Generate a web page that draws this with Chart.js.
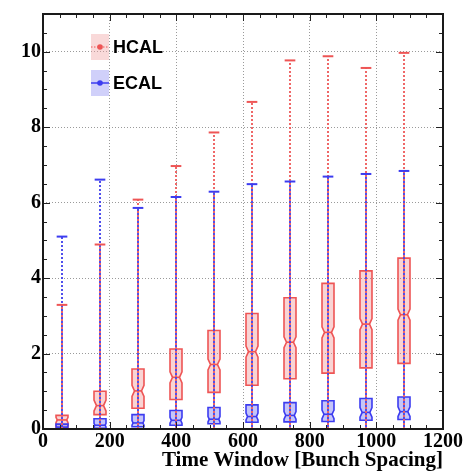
<!DOCTYPE html>
<html>
<head>
<meta charset="utf-8">
<script src="https://cdn.jsdelivr.net/npm/chart.js@4.4.1/dist/chart.umd.min.js"></script>
<style>
  html, body { margin: 0; padding: 0; background: #fff; }
</style>
</head>
<body>
<canvas id="windowChart" width="465" height="473"></canvas>
<script>
// time window centres, in bunch spacings
const timeWindows = [57, 171, 285, 399, 513, 627, 741, 855, 969, 1083];

// HCAL distribution per window
const hcalMin    = [0, 0, 0, 0, 0, 0, 0, 0, 0, 0];
const hcalQ1     = [0.03, 0.38, 0.55, 0.78, 0.97, 1.16, 1.33, 1.48, 1.62, 1.74];
const hcalMedian = [0.24, 0.62, 1.01, 1.37, 1.71, 2.05, 2.30, 2.56, 2.78, 3.03];
const hcalQ3     = [0.36, 1.00, 1.59, 2.12, 2.61, 3.06, 3.48, 3.86, 4.19, 4.53];
const hcalMax    = [3.29, 4.89, 6.08, 6.97, 7.86, 8.67, 9.77, 9.88, 9.57, 9.97];

// ECAL distribution per window
const ecalMin    = [0, 0, 0, 0, 0, 0, 0, 0, 0, 0];
const ecalQ1     = [0.00, 0.02, 0.06, 0.10, 0.14, 0.18, 0.19, 0.20, 0.23, 0.25];
const ecalMedian = [0.05, 0.10, 0.16, 0.23, 0.26, 0.33, 0.36, 0.39, 0.44, 0.46];
const ecalQ3     = [0.13, 0.27, 0.38, 0.49, 0.57, 0.64, 0.70, 0.75, 0.81, 0.85];
const ecalMax    = [5.10, 6.61, 5.86, 6.15, 6.29, 6.49, 6.56, 6.69, 6.76, 6.84];

const xTickValues = [0, 200, 400, 600, 800, 1000, 1200];
const yTickValues = [0, 2, 4, 6, 8, 10];

const HALF_BOX = 18;   // half box width, x units
const CAP_HALF = 16;

function series(label, mn, q1, med, q3, mx, style) {
  return {
    label: label,
    data: timeWindows.map((t, i) => ({ x: t, y: med[i] })),
    stats: timeWindows.map((t, i) => ({ x: t, min: mn[i], q1: q1[i], med: med[i], q3: q3[i], max: mx[i] })),
    pointRadius: 0,
    showLine: false,
    box: style
  };
}

const hcal = series('HCAL', hcalMin, hcalQ1, hcalMedian, hcalQ3, hcalMax, {
  line: 'rgb(238, 85, 85)', fill: 'rgba(235, 120, 120, 0.32)', whisker: 'rgba(238, 95, 95, 0.95)', offset: 0
});
const ecal = series('ECAL', ecalMin, ecalQ1, ecalMedian, ecalQ3, ecalMax, {
  line: 'rgb(60, 60, 240)', fill: 'rgba(110, 110, 240, 0.40)', whisker: 'rgba(70, 70, 235, 0.95)', offset: 2
});

function boxOutline(ctx, cx, half, top, bottom, med, notch, inset) {
  ctx.beginPath();
  ctx.moveTo(cx - half, top);
  ctx.lineTo(cx + half, top);
  ctx.lineTo(cx + half, med - notch);
  ctx.lineTo(cx + half - inset, med);
  ctx.lineTo(cx + half, med + notch);
  ctx.lineTo(cx + half, bottom);
  ctx.lineTo(cx - half, bottom);
  ctx.lineTo(cx - half, med + notch);
  ctx.lineTo(cx - half + inset, med);
  ctx.lineTo(cx - half, med - notch);
  ctx.closePath();
}

const candles = {
  id: 'candles',
  afterDatasetsDraw(chart) {
    const { ctx, scales: { x, y } } = chart;
    const sets = chart.data.datasets;
    ctx.save();
    ctx.beginPath();
    ctx.rect(chart.chartArea.left, chart.chartArea.top - 2, chart.chartArea.width, chart.chartArea.height + 6);
    ctx.clip();

    // notched boxes
    sets.forEach(ds => {
      ds.stats.forEach(s => {
        const cx = x.getPixelForValue(s.x);
        const half = x.getPixelForValue(s.x + HALF_BOX) - cx;
        const top = y.getPixelForValue(s.q3);
        const bottom = y.getPixelForValue(s.q1);
        const med = y.getPixelForValue(s.med);
        const notch = Math.max(0, Math.min(5.5, 0.6 * (med - top), 0.6 * (bottom - med)));
        const inset = half * 0.42 * Math.min(1, notch / 5.5);
        boxOutline(ctx, cx, half, top, bottom, med, notch, inset);
        ctx.fillStyle = ds.box.fill;
        ctx.fill();
        ctx.lineWidth = 1.6;
        ctx.strokeStyle = ds.box.line;
        ctx.setLineDash([]);
        ctx.stroke();
        ctx.beginPath();
        ctx.moveTo(cx - half + inset, med);
        ctx.lineTo(cx + half - inset, med);
        ctx.stroke();
      });
    });

    // dotted whiskers through the full range
    sets.forEach(ds => {
      ctx.strokeStyle = ds.box.whisker;
      ctx.lineWidth = 2;
      ctx.setLineDash([2, 2]);
      ctx.lineDashOffset = ds.box.offset;
      ds.stats.forEach(s => {
        const cx = x.getPixelForValue(s.x);
        ctx.beginPath();
        ctx.moveTo(cx, y.getPixelForValue(s.min));
        ctx.lineTo(cx, y.getPixelForValue(s.max));
        ctx.stroke();
      });
    });

    // whisker caps
    ctx.setLineDash([]);
    sets.forEach(ds => {
      ctx.strokeStyle = ds.box.line;
      ctx.lineWidth = 2;
      ds.stats.forEach(s => {
        const x0 = x.getPixelForValue(s.x - CAP_HALF);
        const x1 = x.getPixelForValue(s.x + CAP_HALF);
        [s.min, s.max].forEach(v => {
          const py = y.getPixelForValue(v);
          ctx.beginPath();
          ctx.moveTo(x0, py);
          ctx.lineTo(x1, py);
          ctx.stroke();
        });
      });
    });
    ctx.restore();
  },
  afterDraw(chart) {
    const { ctx, chartArea: a, scales: { x, y } } = chart;
    ctx.save();
    // inward ticks on all four sides
    ctx.strokeStyle = '#222';
    ctx.lineWidth = 1;
    for (let v = 50; v < 1200; v += 50) {
      const px = Math.round(x.getPixelForValue(v)) + 0.5;
      const len = v % 200 === 0 ? 7 : 4;
      ctx.beginPath();
      ctx.moveTo(px, a.bottom); ctx.lineTo(px, a.bottom - len);
      ctx.moveTo(px, a.top); ctx.lineTo(px, a.top + len);
      ctx.stroke();
    }
    for (let v = 0.5; v < 11; v += 0.5) {
      const py = Math.round(y.getPixelForValue(v)) + 0.5;
      const len = v % 2 === 0 ? 7 : 4;
      ctx.beginPath();
      ctx.moveTo(a.left, py); ctx.lineTo(a.left + len, py);
      ctx.moveTo(a.right, py); ctx.lineTo(a.right - len, py);
      ctx.stroke();
    }
    // frame
    ctx.lineWidth = 2;
    ctx.strokeStyle = '#1a1a1a';
    ctx.strokeRect(a.left, a.top, a.right - a.left, a.bottom - a.top);

    // legend
    const entries = [
      { ds: chart.data.datasets[0], swatch: 'rgba(240, 160, 160, 0.40)', dotted: true },
      { ds: chart.data.datasets[1], swatch: 'rgba(150, 150, 245, 0.45)', dotted: false }
    ];
    const lx = a.left + 48;
    entries.forEach((e, i) => {
      const top = a.top + 20 + i * 36;
      ctx.fillStyle = e.swatch;
      ctx.fillRect(lx, top, 18, 26);
      const cy = top + 13;
      ctx.strokeStyle = e.ds.box.line;
      ctx.lineWidth = e.dotted ? 1 : 1.5;
      ctx.setLineDash(e.dotted ? [1.5, 1.5] : []);
      ctx.beginPath();
      ctx.moveTo(lx, cy); ctx.lineTo(lx + 18, cy);
      ctx.stroke();
      ctx.setLineDash([]);
      ctx.fillStyle = e.ds.box.line;
      ctx.beginPath();
      ctx.arc(lx + 9, cy, 2.8, 0, Math.PI * 2);
      ctx.fill();
      ctx.fillStyle = '#000';
      ctx.font = 'bold 18px "Liberation Sans"';
      ctx.textBaseline = 'middle';
      ctx.textAlign = 'left';
      ctx.fillText(e.ds.label, lx + 22, cy + 1);
    });
    ctx.restore();
  }
};

const tickFont = { family: '"Liberation Serif"', size: 20, weight: 'bold' };
const gridColor = ctx => (ctx.tick && (ctx.tick.value === 0 || ctx.tick.value === 1200)) ? 'rgba(0,0,0,0)' : '#9a9a9a';

new Chart(document.getElementById('windowChart'), {
  type: 'scatter',
  data: { datasets: [hcal, ecal] },
  plugins: [candles],
  options: {
    responsive: false,
    devicePixelRatio: 1,
    animation: false,
    layout: { padding: { top: 7, right: 22, left: 0, bottom: 0 } },
    plugins: { legend: { display: false }, tooltip: { enabled: false } },
    scales: {
      x: {
        type: 'linear',
        min: 0,
        max: 1200,
        afterBuildTicks: s => { s.ticks = xTickValues.map(v => ({ value: v })); },
        afterFit: s => { s.height = 44; },
        ticks: { font: tickFont, color: '#000', padding: 1, maxRotation: 0, autoSkip: false, callback: v => String(v) },
        grid: { color: gridColor, drawTicks: false, lineWidth: 1 },
        border: { display: false, dash: [1, 2] },
        title: {
          display: true,
          text: 'Time Window [Bunch Spacing]',
          align: 'end',
          color: '#000',
          font: { family: '"Liberation Serif"', size: 21, weight: 'bold' },
          padding: { top: 0, bottom: 0 }
        }
      },
      y: {
        min: 0,
        max: 11,
        afterBuildTicks: s => { s.ticks = yTickValues.map(v => ({ value: v })); },
        afterFit: s => { s.width = 43; },
        ticks: { font: tickFont, color: '#000', padding: 2, callback: v => String(v) },
        grid: { color: ctx => (ctx.tick && ctx.tick.value === 0) ? 'rgba(0,0,0,0)' : '#9a9a9a', drawTicks: false, lineWidth: 1 },
        border: { display: false, dash: [1, 2] }
      }
    }
  }
});
</script>
</body>
</html>
